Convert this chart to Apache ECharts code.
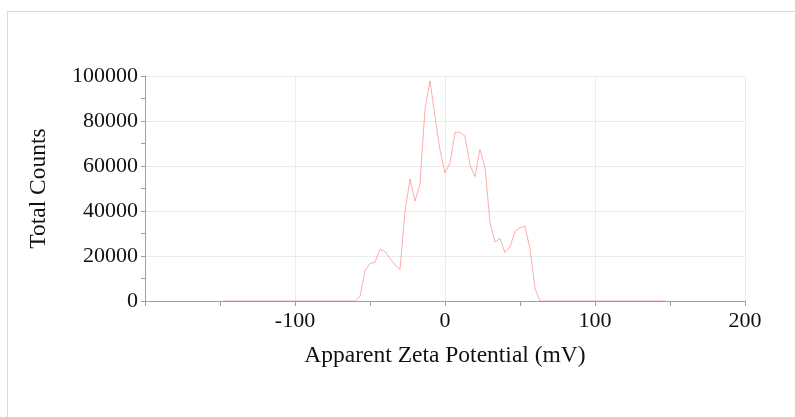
<!DOCTYPE html>
<html>
<head>
<meta charset="utf-8">
<script src="https://cdn.jsdelivr.net/npm/echarts@6/dist/echarts.min.js"></script>
<style>
  html, body { margin: 0; padding: 0; background: #fff; }
  #frame { position: absolute; left: 7px; top: 11px; width: 820px; height: 440px;
           border: 1px solid #dcdcdc; box-sizing: border-box; }
  #chart { position: absolute; left: 0; top: 0; width: 795px; height: 417px; }
</style>
</head>
<body>
<div id="frame"></div>
<div id="chart"></div>
<script>
// zeta potential (mV)
const potential = [
  -148, -60, -56.7, -53.3, -50, -46.7, -43.3, -40, -36.7, -33.3,
  -30, -26.7, -23.3, -20, -16.7, -13.3, -10, -6.7, -3.3, 0,
  3.3, 6.7, 10, 13.3, 16.7, 20, 23.3, 26.7, 30, 33.3,
  36.7, 40, 43.3, 46.7, 50, 53.3, 56.7, 60, 63.3, 147
];
// total counts
const counts = [
  0, 0, 1900, 13500, 16700, 17200, 23000, 21900, 19000, 16000,
  14100, 39700, 54200, 44400, 52000, 85600, 97800, 82200, 67100, 57000,
  61200, 75000, 75000, 73300, 60400, 55300, 67400, 59400, 34800, 26200,
  27800, 21500, 24100, 31000, 32600, 33200, 23000, 5600, 0, 0
];
const xTicks = [-200, -100, 0, 100, 200];
const yTicks = [0, 20000, 40000, 60000, 80000, 100000];

const font = '"Liberation Serif", "Times New Roman", serif';
const chart = echarts.init(document.getElementById("chart"));

const option = {
  animation: false,
  grid: { left: 145, right: 50, top: 76, bottom: 116 },
  xAxis: {
    type: "value",
    min: xTicks[0],
    max: xTicks[xTicks.length - 1],
    interval: 100,
    name: "Apparent Zeta Potential (mV)",
    nameLocation: "middle",
    nameGap: 43,
    nameTextStyle: { fontFamily: font, fontSize: 23.5, color: "#111" },
    axisLine: { show: true, onZero: false, lineStyle: { color: "#a0a0a0" } },
    axisTick: { show: true, length: 5, lineStyle: { color: "#a0a0a0" } },
    minorTick: { show: true, splitNumber: 2, length: 5, lineStyle: { color: "#a0a0a0" } },
    axisLabel: { showMinLabel: false, margin: 9, fontFamily: font, fontSize: 22, color: "#111",
                 formatter: (v) => String(v) },
    splitLine: { show: true, lineStyle: { color: "#ececec" } }
  },
  yAxis: {
    type: "value",
    min: yTicks[0],
    max: yTicks[yTicks.length - 1],
    interval: 20000,
    name: "Total Counts",
    nameLocation: "middle",
    nameGap: 94,
    nameTextStyle: { fontFamily: font, fontSize: 23.5, color: "#111" },
    axisLine: { show: true, onZero: false, lineStyle: { color: "#a0a0a0" } },
    axisTick: { show: true, length: 4, lineStyle: { color: "#a0a0a0" } },
    minorTick: { show: true, splitNumber: 2, length: 4, lineStyle: { color: "#a0a0a0" } },
    axisLabel: { margin: 7, fontFamily: font, fontSize: 22, color: "#111",
                 formatter: (v) => String(v) },
    splitLine: { show: true, lineStyle: { color: "#ececec" } }
  },
  series: [
    {
      type: "line",
      data: potential.map((p, i) => [p, counts[i]]),
      showSymbol: false,
      lineStyle: { color: "rgba(255,0,0,0.33)", width: 1 }
    }
  ]
};

chart.setOption(option);
</script>
</body>
</html>
